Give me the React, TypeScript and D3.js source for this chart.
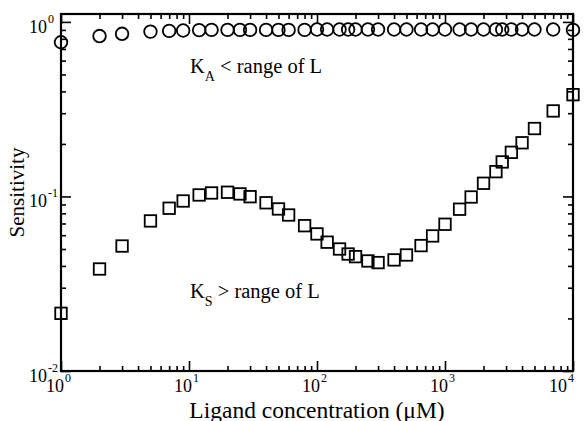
import React, { useEffect, useRef } from 'react';
import * as d3 from 'd3';

// ligand concentration (uM), shared by both series
const concentrations = [
    1, 2, 3, 5, 7, 9, 12, 15, 20, 25, 30, 40, 50, 60, 80, 100, 120, 150, 175, 200,
    250, 300, 400, 500, 650, 800, 1000, 1300, 1600, 2000, 2500, 2800, 3300, 4000, 5000, 7000, 10000,
];

// circles: K_A < range of L
const sensitivityA = [
    0.765, 0.83, 0.855, 0.88, 0.888, 0.893, 0.897, 0.9, 0.9, 0.9, 0.9, 0.9, 0.9, 0.9, 0.9, 0.905, 0.905, 0.905, 0.905, 0.905,
    0.905, 0.905, 0.905, 0.905, 0.905, 0.905, 0.905, 0.905, 0.905, 0.905, 0.905, 0.905, 0.905, 0.905, 0.905, 0.905, 0.9,
];

// squares: K_S > range of L
const sensitivityS = [
    0.0214, 0.0384, 0.052, 0.0724, 0.0856, 0.0942, 0.102, 0.1047, 0.1057, 0.1034, 0.0997, 0.092, 0.0848, 0.0783, 0.068, 0.061, 0.0547, 0.05, 0.0468, 0.0452,
    0.0427, 0.0418, 0.0433, 0.0462, 0.0523, 0.0594, 0.0693, 0.0845, 0.0993, 0.119, 0.1387, 0.1577, 0.179, 0.203, 0.245, 0.309, 0.383,
];

const xMajor = [1, 10, 100, 1000, 10000];
const xExponents = ['0', '1', '2', '3', '4'];
const yMajor = [0.01, 0.1, 1];
const yExponents = ['-2', '-1', '0'];

const FONT = '"Liberation Serif", "Times New Roman", serif';

const Chart: React.FC = () => {
    const svgRef = useRef<SVGSVGElement>(null);

    useEffect(() => {
        if (!svgRef.current) return;
        const svg = d3.select(svgRef.current);
        svg.selectAll("*").remove();

        const width = 586;
        const height = 421;
        const margin = { top: 14, right: 13, bottom: 50, left: 61 };

        const x = d3.scaleLog()
            .domain([1, 10000])
            .range([margin.left, width - margin.right]);

        const y = d3.scaleLog()
            .domain([0.01, 1.11])
            .range([height - margin.bottom, margin.top]);

        const [x0, x1] = x.range();
        const [y0, y1] = y.range();

        // minor ticks: 2..9 within each decade
        const xMinor: number[] = [];
        for (let d = 0; d < 4; d++) for (let k = 2; k <= 9; k++) xMinor.push(k * Math.pow(10, d));
        const yMinor: number[] = [];
        for (let d = -2; d < 0; d++) for (let k = 2; k <= 9; k++) yMinor.push(k * Math.pow(10, d));

        const axes = svg.append("g");

        const addAxis = (axis: d3.Axis<number>, tx: number, ty: number) => {
            const g = axes.append("g")
                .attr("transform", `translate(${tx},${ty})`)
                .call(axis as any);
            g.select(".domain").remove();
            g.selectAll("text").remove();
            g.selectAll("line").attr("stroke", "#000").attr("stroke-width", 1.6);
        };

        const noFmt = () => "";
        // bottom & top (ticks point inward)
        addAxis(d3.axisBottom<number>(x).tickValues(xMajor).tickSize(-10).tickFormat(noFmt), 0, y0);
        addAxis(d3.axisBottom<number>(x).tickValues(xMinor).tickSize(-5).tickFormat(noFmt), 0, y0);
        addAxis(d3.axisTop<number>(x).tickValues(xMajor).tickSize(-10).tickFormat(noFmt), 0, y1);
        addAxis(d3.axisTop<number>(x).tickValues(xMinor).tickSize(-5).tickFormat(noFmt), 0, y1);
        // left & right
        addAxis(d3.axisLeft<number>(y).tickValues(yMajor).tickSize(-10).tickFormat(noFmt), x0, 0);
        addAxis(d3.axisLeft<number>(y).tickValues(yMinor).tickSize(-5).tickFormat(noFmt), x0, 0);
        addAxis(d3.axisRight<number>(y).tickValues(yMajor).tickSize(-10).tickFormat(noFmt), x1, 0);
        addAxis(d3.axisRight<number>(y).tickValues(yMinor).tickSize(-5).tickFormat(noFmt), x1, 0);

        // frame
        svg.append("rect")
            .attr("x", x0)
            .attr("y", y1)
            .attr("width", x1 - x0)
            .attr("height", y0 - y1)
            .attr("fill", "none")
            .attr("stroke", "#000")
            .attr("stroke-width", 2.2);

        // x tick labels 10^n
        const xl = svg.append("g").attr("font-family", FONT).attr("fill", "#000");
        xMajor.forEach((v, i) => {
            // keep the last label inside the page like the original
            const cx = Math.min(x(v), width - 22);
            xl.append("text")
                .attr("x", cx + 3)
                .attr("y", y0 + 21)
                .attr("text-anchor", "end")
                .attr("font-size", 18)
                .text("10");
            xl.append("text")
                .attr("x", cx + 4)
                .attr("y", y0 + 11)
                .attr("font-size", 12)
                .text(xExponents[i]);
        });

        // y tick labels 10^n
        const yl = svg.append("g").attr("font-family", FONT).attr("fill", "#000");
        yMajor.forEach((v, i) => {
            const cy = y(v);
            yl.append("text")
                .attr("x", x0 - 14)
                .attr("y", cy + 11)
                .attr("text-anchor", "end")
                .attr("font-size", 18)
                .text("10");
            yl.append("text")
                .attr("x", x0 - 13)
                .attr("y", cy + 1)
                .attr("font-size", 12)
                .text(yExponents[i]);
        });

        // axis titles
        svg.append("text")
            .attr("x", (x0 + x1) / 2)
            .attr("y", height - 3.5)
            .attr("text-anchor", "middle")
            .attr("font-family", FONT)
            .attr("font-size", 23.5)
            .text("Ligand concentration (\u03BCM)");

        svg.append("text")
            .attr("transform", `translate(24,${(y0 + y1) / 2}) rotate(-90)`)
            .attr("text-anchor", "middle")
            .attr("font-family", FONT)
            .attr("font-size", 21)
            .text("Sensitivity");

        // annotations
        const note = (tx: number, ty: number, sub: string, rest: string) => {
            const t = svg.append("text")
                .attr("x", tx)
                .attr("y", ty)
                .attr("font-family", FONT)
                .attr("font-size", 20.5);
            t.append("tspan").text("K");
            t.append("tspan").attr("dy", 8).attr("font-size", 14).text(sub);
            t.append("tspan").attr("dy", -8).text(" " + rest);
        };
        note(190, 73, "A", "< range of L");
        note(190, 298, "S", "> range of L");

        // circles
        const circleData = concentrations.map((c, i) => ({ c, v: sensitivityA[i] }));
        svg.append("g")
            .selectAll("circle")
            .data(circleData)
            .join("circle")
            .attr("cx", d => x(d.c))
            .attr("cy", d => y(d.v))
            .attr("r", 6.3)
            .attr("fill", "none")
            .attr("stroke", "#000")
            .attr("stroke-width", 1.8);

        // squares
        const squareData = concentrations.map((c, i) => ({ c, v: sensitivityS[i] }));
        const side = 11.5;
        svg.append("g")
            .selectAll("rect")
            .data(squareData)
            .join("rect")
            .attr("x", d => x(d.c) - side / 2)
            .attr("y", d => y(d.v) - side / 2)
            .attr("width", side)
            .attr("height", side)
            .attr("fill", "none")
            .attr("stroke", "#000")
            .attr("stroke-width", 1.8);
    }, []);

    return (
        <svg
            ref={svgRef}
            width={586}
            height={421}
            style={{ position: "absolute", left: 0, top: 0, background: "#fff" }}
        />
    );
};

export default function App() {
    return <Chart />;
}
